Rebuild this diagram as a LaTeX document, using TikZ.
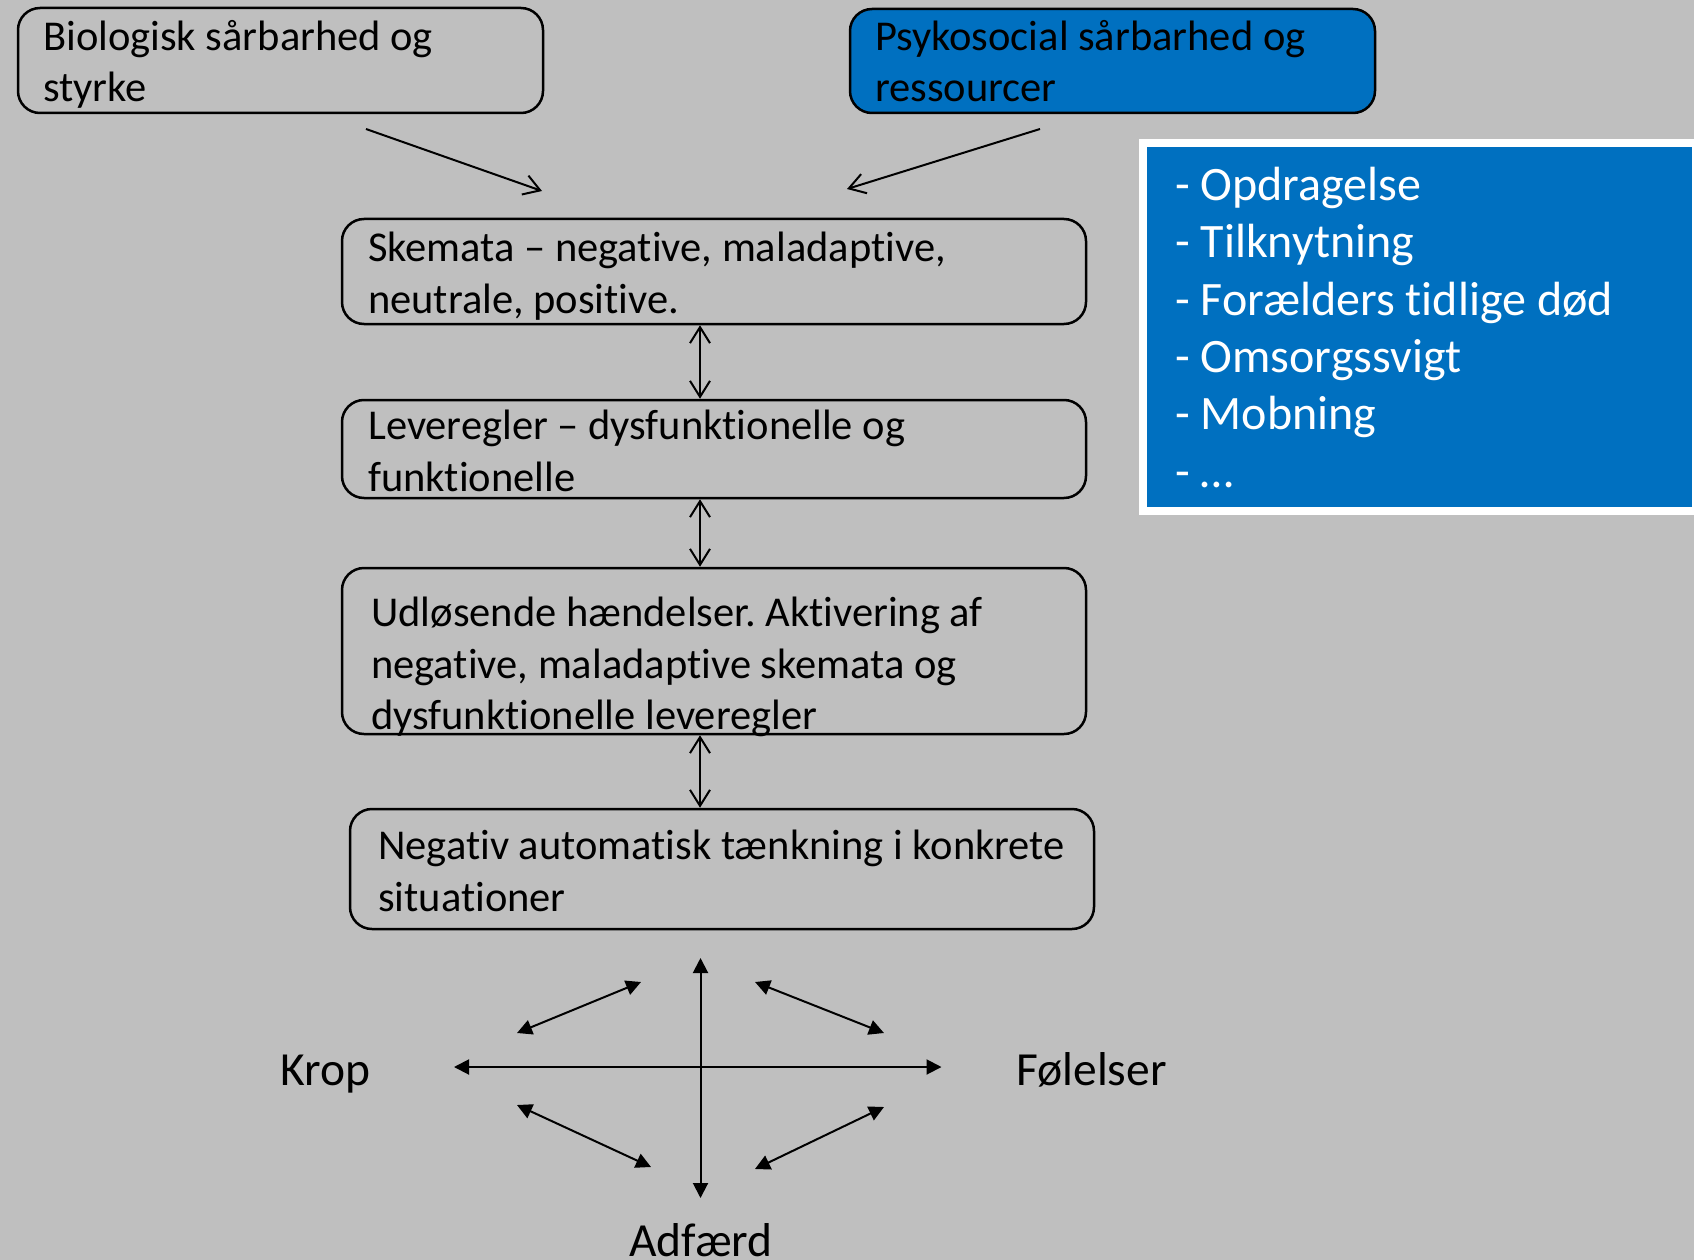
\documentclass[tikz,border=0pt]{standalone}
\usepackage{fontspec}
\setmainfont{Carlito}[Ligatures={TeX,NoCommon}]
\usetikzlibrary{arrows.meta}
\definecolor{slidegray}{RGB}{191,191,191}
\definecolor{slideblue}{RGB}{0,112,192}

\begin{document}
\begin{tikzpicture}[x=1pt,y=-1pt,
    box/.style={draw=black,line width=2.5pt,rounded corners=22pt,inner sep=0pt},
    boxtext/.style={inner sep=0pt,anchor=north west,align=left,font=\fontsize{42.5}{51.5}\selectfont\frenchspacing},
    biglabel/.style={inner sep=0pt,font=\fontsize{47.5}{57.3}\selectfont},
    barb/.style={line width=2pt,-{Straight Barb[length=16pt,width=20pt]}},
    dbl/.style={line width=2pt,{Straight Barb[length=16pt,width=20pt]}-{Straight Barb[length=16pt,width=20pt]}},
    tri/.style={line width=2pt,{Triangle[length=15pt,width=15pt]}-{Triangle[length=15pt,width=15pt]}}]
  \fill[slidegray] (0,0) rectangle (1694,1260);
  \useasboundingbox (0,0) rectangle (1694,1260);

  % top boxes
  \node[box,minimum width=525pt,minimum height=105pt] (bio) at (280.5,60.5) {};
  \node[boxtext] (biotext) at (43,20) {Biologisk sårbarhed og\\styrke};
  \node[box,fill=slideblue,minimum width=525pt,minimum height=104pt] (psyko) at (1112.5,61) {};
  \node[boxtext] (psykotext) at (875,20) {Psykosocial sårbarhed og\\ressourcer};

  % list of factors
  \node[draw=white,line width=8pt,fill=slideblue,inner sep=0pt,minimum width=553pt,minimum height=368pt] (causes) at (1419.5,327) {};
  \node[biglabel,anchor=north west,align=left,text=white,font=\fontsize{48}{57.3}\selectfont] (causelist) at (1175,167)
    {- Opdragelse\\- Tilknytning\\- Forælders tidlige død\\- Omsorgssvigt\\- Mobning\\- \dots};

  % chain of boxes
  \node[box,minimum width=744pt,minimum height=105pt] (skemata) at (714,271.5) {};
  \node[boxtext] (skematatext) at (368,232) {Skemata – negative, maladaptive,\\neutrale, positive.};
  \node[box,minimum width=744pt,minimum height=98pt] (leve) at (714,449) {};
  \node[boxtext] (levetext) at (368,410) {Leveregler – dysfunktionelle og\\funktionelle};
  \node[box,minimum width=744pt,minimum height=166pt] (udl) at (714,651) {};
  \node[boxtext] (udltext) at (371,597)
    {Udløsende hændelser. Aktivering af\\negative, maladaptive skemata og\\dysfunktionelle leveregler};
  \node[box,minimum width=744pt,minimum height=120pt] (neg) at (722,869) {};
  \node[boxtext] (negtext) at (378,830) {Negativ automatisk tænkning i konkrete\\situationer};

  % arrows into skemata
  \coordinate (biostart) at (366,129);
  \coordinate (bioend) at (542,191);
  \coordinate (psystart) at (1040,129);
  \coordinate (psyend) at (847,189);
  \draw[barb] (biostart) -- (bioend);
  \draw[barb] (psystart) -- (psyend);

  \coordinate (axis) at (700,0);
  \draw[dbl] (skemata.south -| axis) -- (leve.north -| axis);
  \draw[dbl] (leve.south -| axis) -- (udl.north -| axis);
  \draw[dbl] (udl.south -| axis) -- (neg.north -| axis);

  % body, feelings, behaviour
  \node[biglabel,anchor=base west] (krop) at (280,1085) {Krop};
  \node[biglabel,anchor=base west] (folelser) at (1016,1085) {Følelser};
  \node[biglabel,anchor=base] (adfaerd) at (701,1256) {Adfærd};

  \coordinate (up) at (700.5,958);
  \coordinate (down) at (700.5,1198);
  \coordinate (left) at (454,1067);
  \coordinate (right) at (941.5,1067);
  \draw[tri] (up) -- (down);
  \draw[tri] (left) -- (right);
  \foreach \xa/\ya/\xb/\yb in {517/1033/641/982, 755/982/884/1033, 517/1105/651/1167, 755/1169/884/1107}{
    \draw[tri] (\xa,\ya) -- (\xb,\yb);
  }
\end{tikzpicture}
\end{document}
